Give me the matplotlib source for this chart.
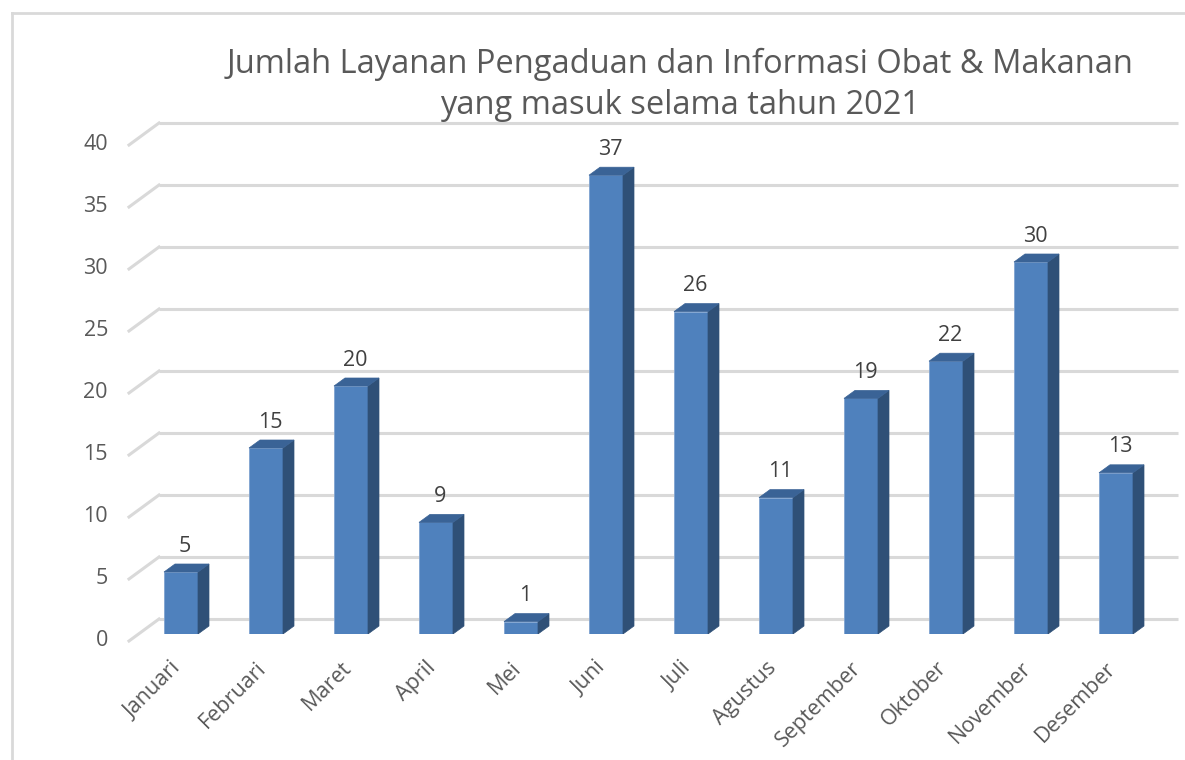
import matplotlib
matplotlib.use("Agg")
import matplotlib.pyplot as plt
from matplotlib.patches import Polygon
from matplotlib.lines import Line2D

plt.rcParams['font.family'] = ['Open Sans', 'DejaVu Sans']

months = ["Januari", "Februari", "Maret", "April", "Mei", "Juni", "Juli",
          "Agustus", "September", "Oktober", "November", "Desember"]
values = [5, 15, 20, 9, 1, 37, 26, 11, 19, 22, 30, 13]
yticks = [0, 5, 10, 15, 20, 25, 30, 35, 40]
title = "Jumlah Layanan Pengaduan dan Informasi Obat & Makanan\nyang masuk selama tahun 2021"

W, H = 1185, 760
fig = plt.figure(figsize=(W / 100, H / 100), dpi=100)

# axes in pixel layout (front plane of the bars)
px_cat = 85.0          # pixels per category
px_unit = 12.4         # pixels per value unit
x_left = 138.5
y_zero = 634.0
ax = fig.add_axes([x_left / W, (H - y_zero) / H, 12 * px_cat / W, 40 * px_unit / H])
ax.set_xlim(-0.5, 11.5)
ax.set_ylim(0, 40)
ax.axis('off')

def dx(p):
    return p / px_cat

def dy(p):
    return p / px_unit

grid_c = '#D9D9D9'
# back wall gridlines + left diagonal (3D floor/wall illusion)
xb0 = -0.5 + dx(159 - x_left)
xb1 = -0.5 + dx(1178 - x_left)
xf = -0.5 + dx(129 - x_left)
for v in yticks:
    ax.plot([xb0, xb1], [v + dy(15), v + dy(15)], color=grid_c, lw=2.2,
            solid_capstyle='butt', zorder=1, clip_on=False)
    ax.plot([xf, xb0], [v - dy(7), v + dy(15)], color=grid_c, lw=2.2,
            zorder=1, clip_on=False)
    ax.text(xf - dx(21), v - dy(6), str(v), ha='right', va='center',
            fontsize=15.5, color='#595959', clip_on=False)

front_c = '#4F81BD'
side_c = '#2F5077'
top_c = '#3A6396'
hw = dx(17)
ddx, ddy = dx(11), dy(8)
for i, v in enumerate(values):
    ax.bar(i, v, width=2 * hw, color=front_c, edgecolor='#7FA3D1', linewidth=0.6, zorder=3)
    side = Polygon([(i + hw, 0), (i + hw + ddx, ddy), (i + hw + ddx, v + ddy), (i + hw, v)],
                   closed=True, facecolor=side_c, edgecolor=side_c, lw=0.5, zorder=3)
    top = Polygon([(i - hw, v), (i + hw, v), (i + hw + ddx, v + ddy), (i - hw + ddx, v + ddy)],
                  closed=True, facecolor=top_c, edgecolor=top_c, lw=0.5, zorder=3)
    ax.add_patch(side)
    ax.add_patch(top)
    ax.text(i + dx(4), v + dy(26), str(v), ha='center', va='center',
            fontsize=15.5, color='#404040', zorder=4)

for i, m in enumerate(months):
    ax.text(i - dx(3), -dy(31), m, rotation=45, rotation_mode='anchor',
            ha='right', va='center', fontsize=15.5, color='#595959', clip_on=False)

fig.text(680 / W, 1 - 85 / H, title, ha='center', va='center', fontsize=23.5,
         color='#595959', linespacing=1.3)

# chart frame (top and left visible)
fig.add_artist(Line2D([12 / W, 12 / W], [0, 1 - 13 / H], color=grid_c, lw=2,
                      transform=fig.transFigure))
fig.add_artist(Line2D([12 / W, 1], [1 - 13 / H, 1 - 13 / H], color=grid_c, lw=2,
                      transform=fig.transFigure))

fig.savefig("out.png", dpi=100)
